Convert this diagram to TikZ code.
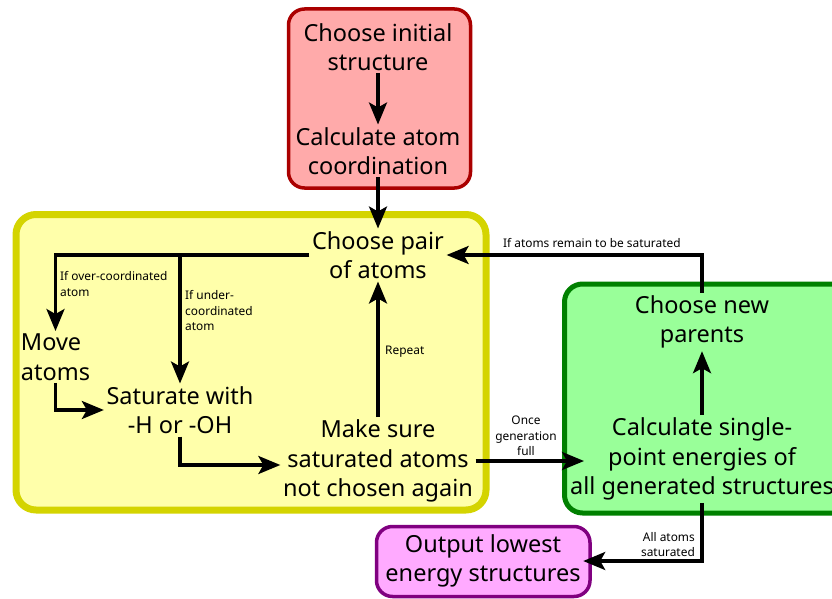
\documentclass[tikz,border=0pt]{standalone}
\usepackage{fontspec}
\setmainfont{Noto Sans}
\usetikzlibrary{arrows.meta,calc}
\definecolor{redfill}{RGB}{255,170,170}
\definecolor{redline}{RGB}{170,0,0}
\definecolor{yelfill}{RGB}{255,255,170}
\definecolor{yelline}{RGB}{212,212,0}
\definecolor{grnfill}{RGB}{153,255,153}
\definecolor{grnline}{RGB}{0,128,0}
\definecolor{magfill}{RGB}{255,170,255}
\definecolor{magline}{RGB}{128,0,128}
\begin{document}
\begin{tikzpicture}[x=1pt,y=-1pt,
  big/.style={align=center,font=\fontsize{23.5}{29.5}\selectfont,inner sep=2.5pt},
  lbl/.style={font=\fontsize{11.9}{15.5}\selectfont,inner sep=0pt},
  arr/.style={line width=3.3pt,-{Stealth[length=22pt,width=18pt,inset=5pt]}},
  box/.style={rounded corners=16pt}]
\useasboundingbox (0,0) rectangle (832,599);
% containers
\draw[box,fill=redfill,draw=redline,line width=3.5pt] (288.5,9) rectangle (470.5,188);
\draw[box,fill=yelfill,draw=yelline,line width=7pt,rounded corners=20pt] (16,214.5) rectangle (486,510);
\draw[box,fill=grnfill,draw=grnline,line width=5pt,rounded corners=18pt] (564.5,284) rectangle (860,513);
\draw[box,fill=magfill,draw=magline,line width=3.5pt] (376.5,526.5) rectangle (590,596.5);
% text nodes
\node[big] (init) at (378,47) {Choose initial\\structure};
\node[big] (calc) at (378,151) {Calculate atom\\coordination};
\node[big] (pair) at (378,255) {Choose pair\\of atoms};
\node[big,align=left] (move) at (55.5,357) {Move\\atoms};
\node[big] (sat) at (180,410) {Saturate with\\-H or -OH};
\node[big] (make) at (378,461) {Make sure\\saturated atoms\\not chosen again};
\node[big] (parents) at (702,322) {Choose new\\parents};
\node[big] (energy) at (702,459) {Calculate single-\\point energies of\\all generated structures};
\node[big] (out) at (483,561) {Output lowest\\energy structures};
\coordinate (gin) at (584,461);
% connectors
\draw[arr] (init) -- (calc);
\draw[arr] (calc) -- (pair);
\draw[arr] (pair.west) -| (move.north);
\draw[arr] (pair.west -| sat.north) -- (sat.north);
\draw[arr] (move.south) |- (sat.west);
\draw[arr] (sat.south) |- ($(make.west)+(0,4)$);
\draw[arr] (make) -- (pair);
\draw[arr] (make.east |- gin) -- (gin);
\draw[arr] (energy) -- (parents);
\draw[arr] (parents.north) |- (pair.east);
\draw[arr] (energy.south) |- (out.east);
% labels
\node[lbl,anchor=west] (l1) at (503,243) {If atoms remain to be saturated};
\node[lbl,anchor=west,align=left] (l2) at (60,284) {If over-coordinated\\atom};
\node[lbl,anchor=west,align=left] (l3) at (185,311) {If under-\\coordinated\\atom};
\node[lbl,anchor=west] (l4) at (385,352) {Repeat};
\node[lbl,align=center] (l5) at (526,436) {Once\\generation\\full};
\node[lbl,anchor=east,align=right] (l6) at (695,544.5) {All atoms\\saturated};
\end{tikzpicture}
\end{document}
